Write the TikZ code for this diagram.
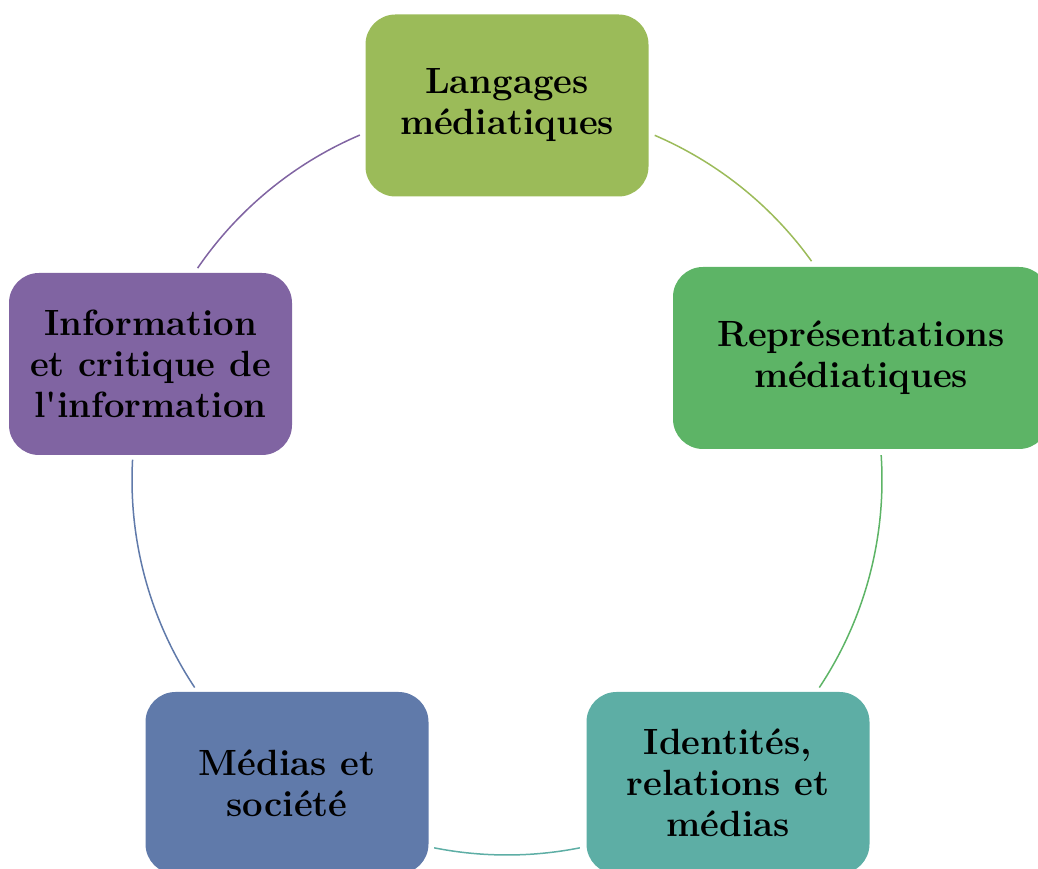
\documentclass[tikz,border=0pt]{standalone}
\usepackage{fontspec}
\usepackage{tikz}
\usetikzlibrary{positioning}

\newfontfamily\topicfont{Latin Modern Roman}

\definecolor{langcol}{HTML}{9BBB59}
\definecolor{reprcol}{HTML}{5DB466}
\definecolor{idencol}{HTML}{5DAEA5}
\definecolor{medicol}{HTML}{607AAA}
\definecolor{infocol}{HTML}{8064A2}

\begin{document}
\begin{tikzpicture}[x=1pt,y=1pt,thick,
        topic/.style={shape=rectangle,rounded corners=30pt,minimum width=283pt,minimum height=182pt,
            inner sep=0pt,align=center,text=black,font=\topicfont\fontsize{36.5}{41}\selectfont\bfseries},
        ring/.style={line width=1.5pt}]

            \useasboundingbox (0,0) rectangle (1038,869);
            \clip (0,0) rectangle (1038,869);

            % Centre of the cycle
            \coordinate (O) at (507,389);

            % Topic nodes
            \node[topic,fill=langcol] (Lang) at (507,763.5) {Langages\\médiatiques};
            \node[topic,fill=reprcol,minimum width=376pt] (Repr) at (861,511) {Représentations\\médiatiques};
            \node[topic,fill=idencol] (Iden) at (728,86) {Identités,\\relations et\\médias};
            \node[topic,fill=medicol] (Medi) at (287,86) {Médias et\\société};
            \node[topic,fill=infocol] (Info) at (150.5,505) {Information\\et critique de\\l'information};

            % Arcs between topics
            \draw[ring,langcol] (O) ++(66.8:375) arc[start angle=66.8,end angle=35.7,radius=375];
            \draw[ring,reprcol] (O) ++(3.8:375) arc[start angle=3.8,end angle=-33.6,radius=375];
            \draw[ring,idencol] (O) ++(-78.8:375) arc[start angle=-78.8,end angle=-101.2,radius=375];
            \draw[ring,medicol] (O) ++(213.6:375) arc[start angle=213.6,end angle=176.9,radius=375];
            \draw[ring,infocol] (O) ++(145.6:375) arc[start angle=145.6,end angle=113.1,radius=375];

        \end{tikzpicture}
\end{document}
